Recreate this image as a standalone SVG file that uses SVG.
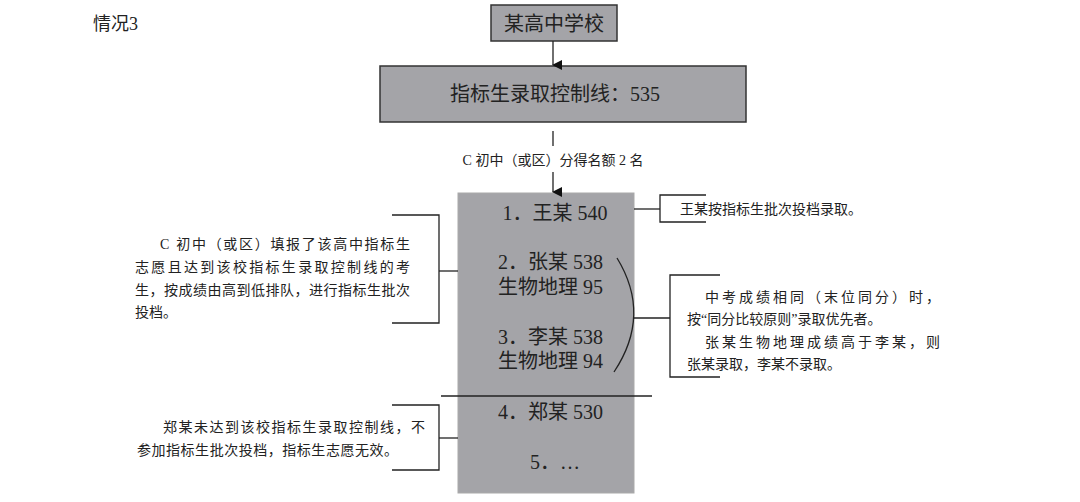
<svg xmlns="http://www.w3.org/2000/svg" width="1080" height="502" viewBox="0 0 1080 502">
<defs>
<marker id="ah" markerWidth="10" markerHeight="10" refX="5" refY="9" orient="auto" markerUnits="userSpaceOnUse"><path d="M0,0 L10,0 L5,10 Z" fill="#111"/></marker>
<style>
text{font-family:"Liberation Serif","Noto Sans CJK SC",serif;fill:#222}
.box{fill:#a4a4a8;stroke:#333;stroke-width:1.5}
.ln{fill:none;stroke:#222;stroke-width:1.3}
.big{font-size:20px}
.sm{font-size:14px}
</style>
</defs>
<rect width="1080" height="502" fill="#fff"/>
<text x="93" y="30" style="font-size:18px">情况3</text>
<g id="school"><rect class="box" x="491" y="5" width="126" height="36"/><text class="big" x="554" y="31" text-anchor="middle">某高中学校</text></g>
<g id="control"><rect class="box" x="380" y="66" width="366" height="56"/><text class="big" x="555" y="101" text-anchor="middle">指标生录取控制线：535</text></g>
<g id="list"><rect x="458" y="193" width="176" height="300" fill="#a4a4a8" stroke="#aaa"/>
<text class="big" x="555" y="220" text-anchor="middle">1．王某 540</text>
<text class="big" x="498" y="269">2．张某 538</text>
<text class="big" x="498" y="294">生物地理 95</text>
<text class="big" x="498" y="344">3．李某 538</text>
<text class="big" x="498" y="368">生物地理 94</text>
<text class="big" x="498" y="419">4．郑某 530</text>
<text class="big" x="530" y="469">5．…</text>
</g>
<g id="note1"><path class="ln" d="M392,215 H439 V323 H392"/>
<text class="sm" x="160" y="249" textLength="250" lengthAdjust="spacing">C 初中（或区）填报了该高中指标生</text>
<text class="sm" x="135" y="272" textLength="275" lengthAdjust="spacing">志愿且达到该校指标生录取控制线的考</text>
<text class="sm" x="135" y="295" textLength="275" lengthAdjust="spacing">生，按成绩由高到低排队，进行指标生批次</text>
<text class="sm" x="135" y="317">投档。</text></g>
<g id="note2"><path class="ln" d="M706,195 H660 V222 H706"/><text class="sm" x="680" y="214">王某按指标生批次投档录取。</text></g>
<g id="note3"><path class="ln" d="M720,275 H670 V377 H720"/>
<text class="sm" x="705" y="302" textLength="235" lengthAdjust="spacing">中考成绩相同（末位同分）时，</text>
<text class="sm" x="687" y="324">按“同分比较原则”录取优先者。</text>
<text class="sm" x="705" y="347" textLength="235" lengthAdjust="spacing">张某生物地理成绩高于李某，则</text>
<text class="sm" x="687" y="369">张某录取，李某不录取。</text></g>
<g id="note4"><path class="ln" d="M392,405 H439 V470 H392"/>
<text class="sm" x="163" y="432" textLength="262" lengthAdjust="spacing">郑某未达到该校指标生录取控制线，不</text>
<text class="sm" x="137" y="455" textLength="261" lengthAdjust="spacing">参加指标生批次投档，指标生志愿无效。</text></g>
<g id="connectors">
<line class="ln" x1="553" y1="41" x2="553" y2="65" marker-end="url(#ah)"/>
<line class="ln" x1="553" y1="131" x2="553" y2="146" stroke-width="2"/>
<text class="sm" x="553" y="165" text-anchor="middle">C 初中（或区）分得名额 2 名</text>
<line class="ln" x1="553" y1="172" x2="553" y2="192" marker-end="url(#ah)"/>
<line class="ln" x1="439" y1="271" x2="458" y2="271"/>
<line class="ln" x1="439" y1="438" x2="458" y2="438"/>
<line class="ln" x1="634" y1="209" x2="660" y2="209"/>
<path class="ln" d="M617,258 Q652,315 614,372" stroke-width="1.6"/>
<line class="ln" x1="634" y1="318" x2="670" y2="318"/>
<line class="ln" x1="441" y1="396" x2="652" y2="396"/>
</g>
</svg>
